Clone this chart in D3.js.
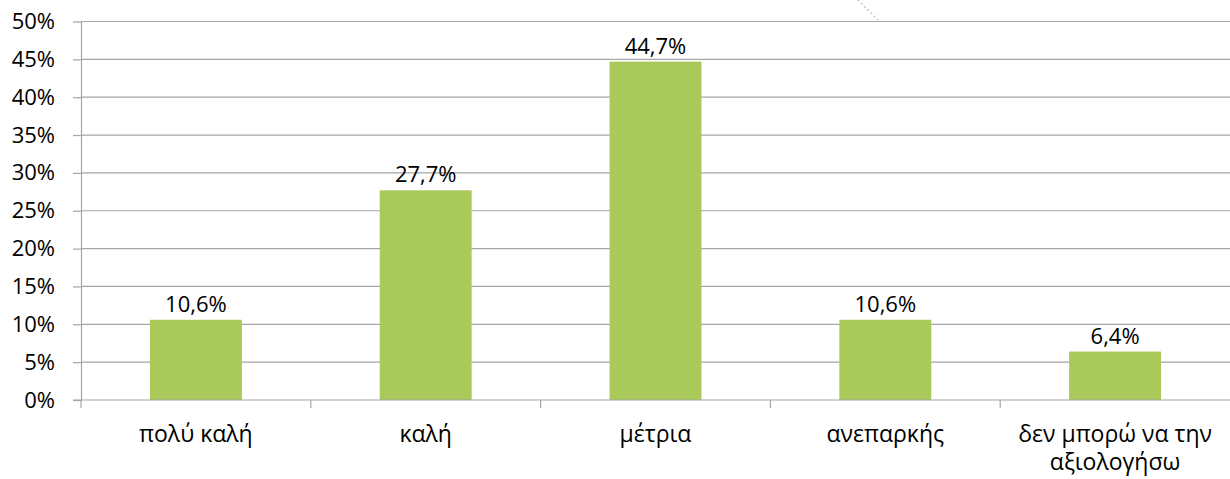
<!DOCTYPE html>
<html><head><meta charset="utf-8">
<script src="https://cdn.jsdelivr.net/npm/d3@7"></script>
<style>
html,body{margin:0;padding:0;background:#fff;}
svg{display:block;}
text{font-family:"Open Sans","Noto Sans",sans-serif;fill:#000;}
</style></head>
<body>
<script>
const categories = ["πολύ καλή", "καλή", "μέτρια", "ανεπαρκής", "δεν μπορώ να την αξιολογήσω"];
const categoryLines = [["πολύ καλή"], ["καλή"], ["μέτρια"], ["ανεπαρκής"], ["δεν μπορώ να την", "αξιολογήσω"]];
const values = [10.6, 27.7, 44.7, 10.6, 6.4];
const valueLabels = ["10,6%", "27,7%", "44,7%", "10,6%", "6,4%"];
const yTicks = [0, 5, 10, 15, 20, 25, 30, 35, 40, 45, 50];

(function () {
const W = 1230, H = 479;
const mLeft = 81, mRight = 1230, mTop = 21.5, mBottom = 400;
const svg = d3.select("body").append("svg").attr("width", W).attr("height", H);

const x = d3.scaleBand().domain(categories).range([mLeft, mRight]).paddingInner(0.6).paddingOuter(0.3);
const y = d3.scaleLinear().domain([0, 50]).range([mBottom, mTop]);

// gridlines + y axis
const yAxis = d3.axisLeft(y).tickValues(yTicks).tickFormat(d => d + "%").tickSize(8).tickSizeOuter(0);
const gy = svg.append("g").attr("transform", `translate(${mLeft},0)`).call(yAxis);
gy.select(".domain").attr("stroke", "#a6a6a6").attr("stroke-width", 1.2);
gy.selectAll(".tick line").attr("stroke", "#a6a6a6").attr("stroke-width", 1.2);
gy.selectAll(".tick text").attr("x", -26).attr("font-size", 22).attr("font-family", "Open Sans").attr("fill", "#000");
svg.append("g").selectAll("line.grid").data(yTicks.filter(d => d > 0)).join("line")
  .attr("x1", mLeft).attr("x2", mRight).attr("y1", d => y(d)).attr("y2", d => y(d))
  .attr("stroke", "#a6a6a6").attr("stroke-width", 1.2);

// bars
svg.append("g").selectAll("rect").data(values).join("rect")
  .attr("x", (d, i) => x(categories[i])).attr("width", x.bandwidth())
  .attr("y", d => y(d)).attr("height", d => y(0) - y(d))
  .attr("fill", "#a9c95a");

// x axis
const boundaries = categories.map(c => x(c) - x.step() * x.paddingInner() / 2);
const gx = svg.append("g");
gx.append("line").attr("x1", mLeft - 8).attr("x2", mRight).attr("y1", y(0)).attr("y2", y(0))
  .attr("stroke", "#a6a6a6").attr("stroke-width", 1.2);
gx.selectAll("line.tk").data(boundaries).join("line").attr("class", "tk")
  .attr("x1", (d, i) => i === 0 ? mLeft : d).attr("x2", (d, i) => i === 0 ? mLeft : d)
  .attr("y1", y(0)).attr("y2", y(0) + 8).attr("stroke", "#a6a6a6").attr("stroke-width", 1.2);

// category labels
const cl = svg.append("g").selectAll("text").data(categoryLines).join("text")
  .attr("text-anchor", "middle").attr("font-size", 23)
  .attr("x", (d, i) => x(categories[i]) + x.bandwidth() / 2).attr("y", 442);
cl.selectAll("tspan").data(d => d).join("tspan")
  .attr("x", function () { return d3.select(this.parentNode).attr("x"); })
  .attr("dy", (d, j) => j === 0 ? 0 : 28).text(d => d);

// value labels
svg.append("g").selectAll("text").data(values).join("text")
  .attr("text-anchor", "middle").attr("font-size", 22)
  .attr("x", (d, i) => x(categories[i]) + x.bandwidth() / 2)
  .attr("y", d => y(d) - 8)
  .text((d, i) => valueLabels[i]);

// faint dotted artifact at top
svg.append("line").attr("x1", 858).attr("y1", 0).attr("x2", 878).attr("y2", 20)
  .attr("stroke", "#c8c8c8").attr("stroke-width", 2).attr("stroke-dasharray", "1.5,3");
})();
</script>
</body></html>
